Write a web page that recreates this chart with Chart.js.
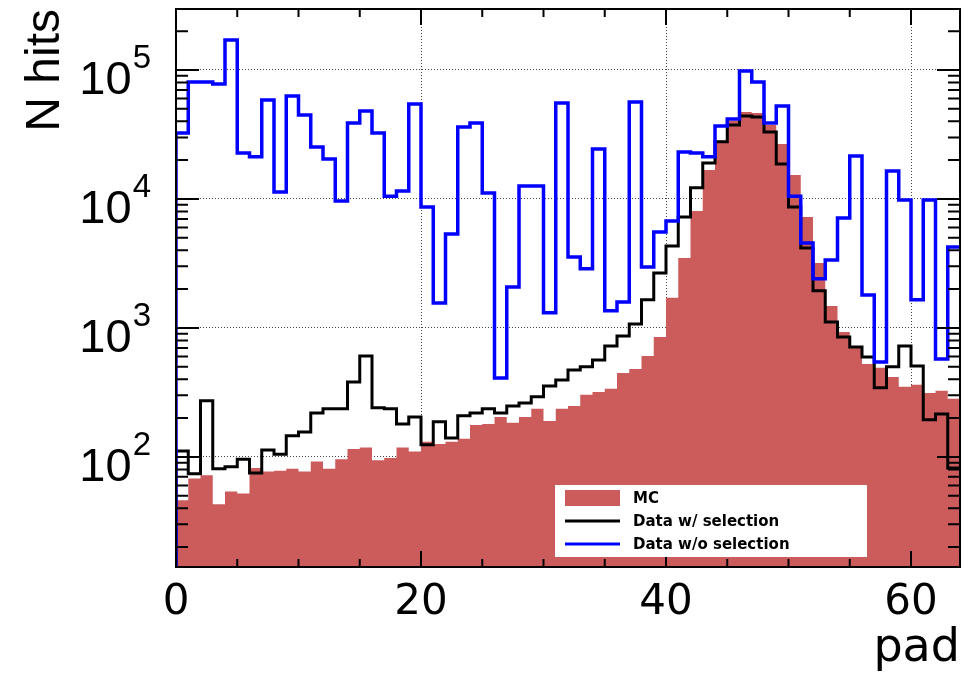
<!DOCTYPE html>
<html>
<head>
<meta charset="utf-8">
<script src="https://cdn.jsdelivr.net/npm/chart.js@4.4.1/dist/chart.umd.min.js"></script>
<style>
  html, body { margin: 0; padding: 0; background: #fff; }
  #hits { display: block; }
</style>
</head>
<body>
<canvas id="hits" width="979" height="678"></canvas>
<script>
// counts per pad (bin i covers [i, i+1))
const mcCounts = [
  46, 68, 72, 43, 54, 52, 82, 77, 78, 81, 77, 92, 81, 96, 115, 118,
  94, 98, 118, 110, 131, 126, 131, 138, 177, 180, 204, 184, 204, 236, 190, 236,
  248, 303, 319, 337, 448, 481, 606, 851, 1710, 3490, 8070, 16800, 28200, 40300, 47200, 46400,
  37500, 26700, 15300, 7240, 3190, 1480, 931, 724, 526, 490, 417, 349, 362, 313, 325, 282,
];
const selCounts = [
  111, 74, 272, 81, 84, 96, 75, 113, 105, 146, 156, 219, 236, 236, 381, 606,
  240, 236, 180, 204, 124, 187, 140, 208, 219, 236, 219, 248, 262, 292, 355, 395,
  472, 499, 565, 724, 867, 1070, 1650, 2670, 4320, 7240, 12200, 19000, 27700, 37500, 44000, 43200,
  33000, 18700, 8670, 4170, 1940, 1110, 851, 712, 596, 343, 499, 724, 507, 194, 215, 82,
];
const noSelCounts = [
  32500, 80700, 80700, 78000, 171000, 22700, 21200, 58500, 11300, 62900, 44800, 25300, 20400, 9660, 38800, 48100,
  32500, 10500, 11500, 54500, 8670, 1560, 5350, 36100, 38800, 11100, 409, 2080, 12600, 12600, 1310, 55500,
  3550, 2870, 24400, 1360, 1590, 56500, 2970, 5540, 6750, 23100, 22700, 21200, 36800, 41700, 98200, 80700,
  38800, 52600, 10500, 4560, 2400, 3360, 7130, 21500, 1800, 545, 16500, 9820, 1650, 9820, 575, 4240,
];
const legendLabels = ["MC", "Data w/ selection", "Data w/o selection"];
const xLabelTicks = [0, 20, 40, 60];
const yLabelPowers = [2, 3, 4, 5];

const X_MAX = 64;
const Y_MIN = 14;
const Y_MAX = 297000;
const MC_COLOR = "rgb(204,92,92)";

// histogram outline: start at the floor, one point per bin left edge, close at the last edge
const histPoints = (vals) => {
  let pts = [{ x: 0, y: Y_MIN }];
  vals.forEach((v, i) => pts.push({ x: i, y: v }));
  pts.push({ x: vals.length, y: vals[vals.length - 1] });
  return pts;
};
const isDecade = (v) => Math.abs(Math.log10(v) - Math.round(Math.log10(v))) < 1e-9;

const frameTicks = {
  id: "frameTicks",
  afterDatasetsDraw(chart) {
    const {
      ctx,
      chartArea: { left, top, right, bottom },
      scales: { x, y },
    } = chart;
    ctx.save();
    ctx.strokeStyle = "#000";
    ctx.lineWidth = 2;
    ctx.beginPath();
    for (let v = 0; v <= X_MAX; v += 5) {
      const px = x.getPixelForValue(v);
      const len = v % 20 === 0 ? 16 : 8;
      ctx.moveTo(px, bottom);
      ctx.lineTo(px, bottom - len);
      ctx.moveTo(px, top);
      ctx.lineTo(px, top + len);
    }
    for (let k = 1; k <= 5; k++) {
      for (let m = 1; m <= 9; m++) {
        const val = m * Math.pow(10, k);
        if (val < Y_MIN || val > Y_MAX) continue;
        const py = y.getPixelForValue(val);
        const len = m === 1 ? 23 : 12;
        ctx.moveTo(left, py);
        ctx.lineTo(left + len, py);
        ctx.moveTo(right, py);
        ctx.lineTo(right - len, py);
      }
    }
    ctx.stroke();
    ctx.strokeRect(left, top, right - left, bottom - top);
    ctx.restore();
  },
};

// "10" with a raised exponent, like the original axis
const powerLabels = {
  id: "powerLabels",
  afterDraw(chart) {
    const {
      ctx,
      chartArea: { left },
      scales: { y },
    } = chart;
    ctx.save();
    ctx.fillStyle = "#000";
    ctx.textAlign = "right";
    ctx.textBaseline = "alphabetic";
    for (const k of yLabelPowers) {
      const py = y.getPixelForValue(Math.pow(10, k));
      const expRight = left - 25;
      ctx.font = "33px 'Liberation Sans', Arial, sans-serif";
      const w = ctx.measureText(String(k)).width;
      ctx.fillText(String(k), expRight, py - 2);
      ctx.font = "47px 'Liberation Sans', Arial, sans-serif";
      ctx.fillText("10", expRight - w - 1, py + 24);
    }
    ctx.restore();
  },
};

const boxLegend = {
  id: "boxLegend",
  afterDraw(chart) {
    const { ctx } = chart;
    const bx = 555, by = 485, bw = 312, bh = 72;
    const rows = [498, 521, 544];
    ctx.save();
    ctx.fillStyle = "#fff";
    ctx.fillRect(bx, by, bw, bh);
    ctx.fillStyle = MC_COLOR;
    ctx.fillRect(565, rows[0] - 8, 55, 16);
    ctx.lineWidth = 3;
    ctx.strokeStyle = "#000";
    ctx.beginPath();
    ctx.moveTo(565, rows[1]);
    ctx.lineTo(620, rows[1]);
    ctx.stroke();
    ctx.strokeStyle = "#0000ff";
    ctx.beginPath();
    ctx.moveTo(565, rows[2]);
    ctx.lineTo(620, rows[2]);
    ctx.stroke();
    ctx.fillStyle = "#000";
    ctx.font = "bold 15px 'DejaVu Sans', sans-serif";
    ctx.textAlign = "left";
    ctx.textBaseline = "middle";
    legendLabels.forEach((t, i) => ctx.fillText(t, 633, rows[i] + 1));
    ctx.restore();
  },
};

const datasets = [
  {
    label: legendLabels[2],
    data: histPoints(noSelCounts),
    borderColor: "#0000ff",
    borderWidth: 3.5,
    stepped: true,
    fill: false,
    pointRadius: 0,
    order: 1,
  },
  {
    label: legendLabels[1],
    data: histPoints(selCounts),
    borderColor: "#000",
    borderWidth: 3,
    stepped: true,
    fill: false,
    pointRadius: 0,
    order: 2,
  },
  {
    label: legendLabels[0],
    data: histPoints(mcCounts),
    borderColor: MC_COLOR,
    borderWidth: 0,
    backgroundColor: MC_COLOR,
    stepped: true,
    fill: "start",
    pointRadius: 0,
    order: 3,
  },
];

new Chart(document.getElementById("hits"), {
  type: "line",
  data: { datasets: datasets },
  options: {
    responsive: false,
    animation: false,
    devicePixelRatio: 1,
    layout: { padding: { top: 9, right: 19, bottom: 0, left: 0 } },
    plugins: {
      legend: { display: false },
      tooltip: { enabled: false },
    },
    scales: {
      x: {
        type: "linear",
        min: 0,
        max: X_MAX,
        afterFit: (scale) => { scale.height = 111; },
        afterBuildTicks: (scale) => { scale.ticks = xLabelTicks.map((v) => ({ value: v })); },
        ticks: {
          autoSkip: false,
          maxRotation: 0,
          padding: 11,
          color: "#000",
          font: { family: "'DejaVu Sans', sans-serif", size: 42 },
          callback: (v) => String(v),
        },
        grid: {
          drawTicks: false,
          lineWidth: 1,
          color: (c) => (c.tick && c.tick.value > 0 ? "#444" : "rgba(0,0,0,0)"),
        },
        border: { display: false, dash: [1, 2] },
        title: {
          display: true,
          text: "pad",
          align: "end",
          color: "#000",
          padding: { top: 0, bottom: 1 },
          font: { family: "'DejaVu Sans', sans-serif", size: 46 },
        },
      },
      y: {
        type: "logarithmic",
        min: Y_MIN,
        max: Y_MAX,
        afterFit: (scale) => { scale.width = 176; },
        ticks: { display: false, autoSkip: false },
        grid: {
          drawTicks: false,
          lineWidth: 1,
          color: (c) => (c.tick && isDecade(c.tick.value) ? "#444" : "rgba(0,0,0,0)"),
        },
        border: { display: false, dash: [1, 2] },
        title: {
          display: true,
          text: "N hits",
          align: "end",
          color: "#000",
          padding: { top: 17, bottom: 0 },
          font: { family: "'Liberation Sans', Arial, sans-serif", size: 48 },
        },
      },
    },
  },
  plugins: [frameTicks, powerLabels, boxLegend],
});
</script>
</body>
</html>
